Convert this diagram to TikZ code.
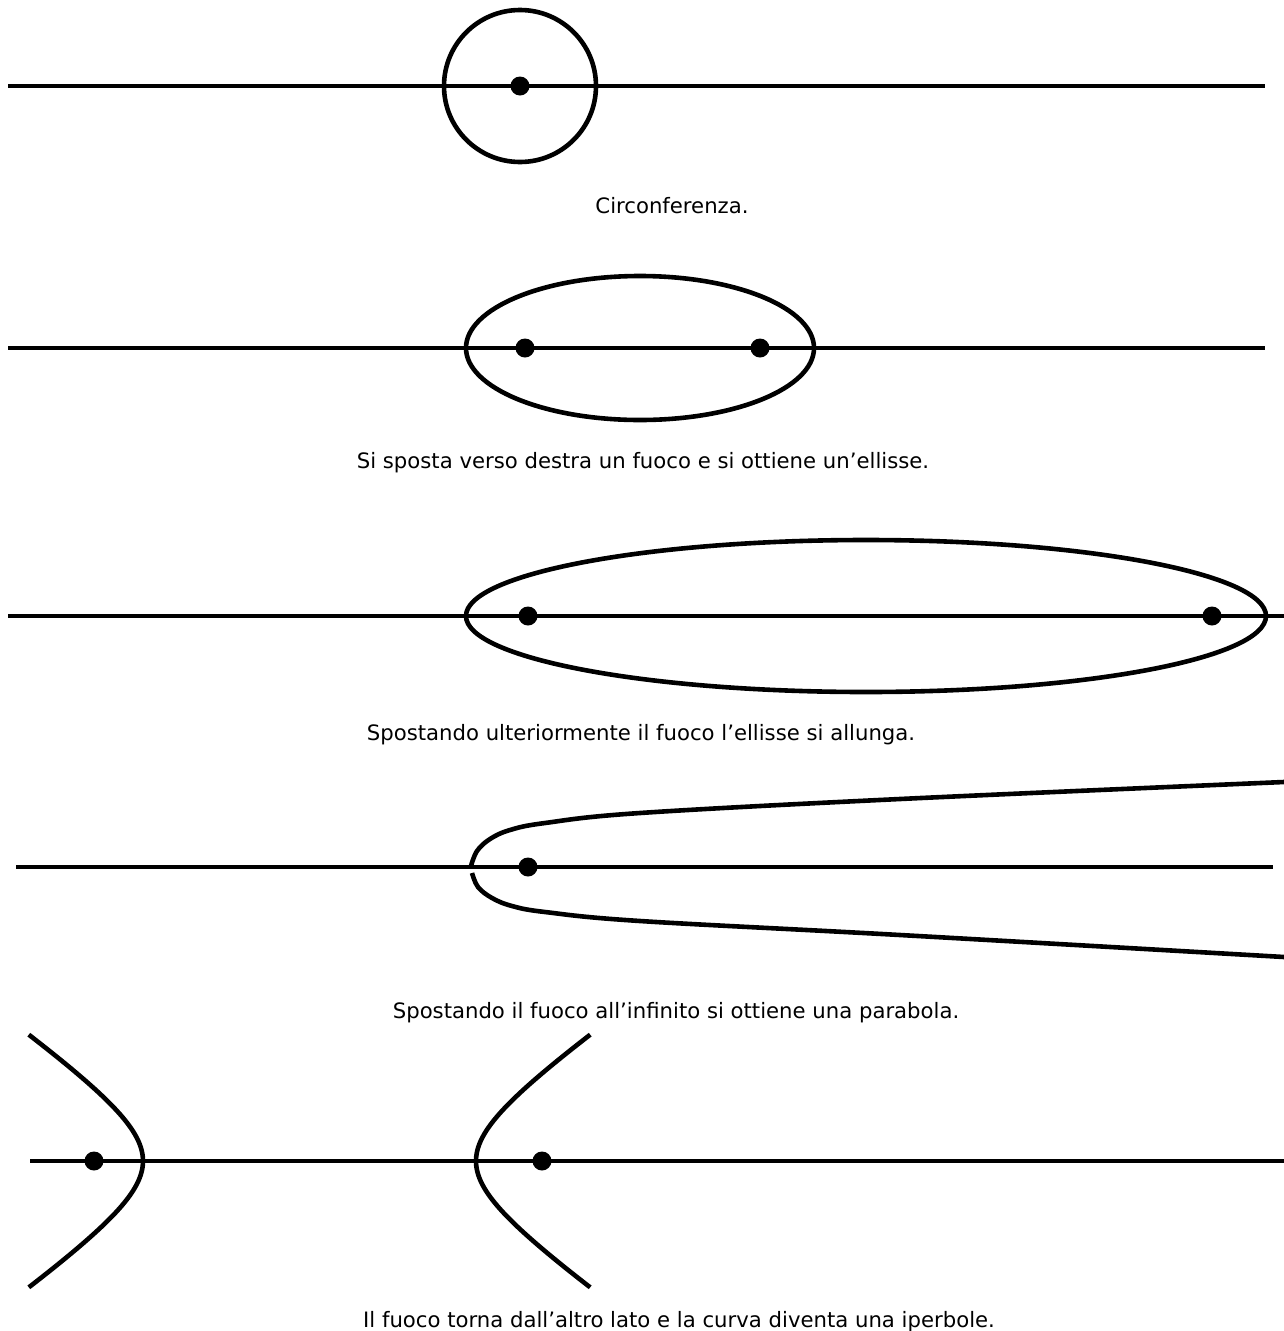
\documentclass[tikz,border=0pt]{standalone}
\usepackage{fontspec}
\setmainfont{DejaVu Sans}
\begin{document}
\begin{tikzpicture}[x=1pt,y=-1pt,
  curve/.style={line width=4.6pt},
  axis/.style={line width=4.6pt},
  focus/.style={circle,fill=black,inner sep=0pt,minimum size=19pt},
  caption/.style={font=\fontsize{21.2}{25}\selectfont,anchor=base,inner sep=0pt}]
\useasboundingbox (0,0) rectangle (1284,1331);
% Panel 1: circle
\coordinate (a1) at (8,86); \coordinate (b1) at (1265,86);
\draw[axis] (a1) -- (b1);
\draw[curve] (520,86) circle (76);
\node[focus] (f1) at (520,86) {};
\node[caption] (t1) at (672,213) {Circonferenza.};
% Panel 2: ellipse
\coordinate (a2) at (8,348); \coordinate (b2) at (1265,348);
\draw[axis] (a2) -- (b2);
\draw[curve] (640,348) ellipse [x radius=174, y radius=72];
\node[focus] (f2a) at (525,348) {};
\node[focus] (f2b) at (760,348) {};
\node[caption] (t2) at (643,468) {Si sposta verso destra un fuoco e si ottiene un’ellisse.};
% Panel 3: long ellipse
\coordinate (a3) at (8,616); \coordinate (b3) at (1284,616);
\draw[axis] (a3) -- (b3);
\draw[curve] (866,616) ellipse [x radius=400, y radius=76];
\node[focus] (f3a) at (528,616) {};
\node[focus] (f3b) at (1212,616) {};
\node[caption] (t3) at (641,740) {Spostando ulteriormente il fuoco l’ellisse si allunga.};
% Panel 4: parabola
\coordinate (a4) at (16,867); \coordinate (b4) at (1273,867);
\draw[axis] (a4) -- (b4);
\draw[curve] plot[smooth,tension=0.6] coordinates {(471,866) (477,851) (490,839) (510,830) (545,823) (640,813) (900,799) (1284,782)};
\draw[curve] plot[smooth,tension=0.6] coordinates {(472,873) (478,887) (492,898) (512,906) (545,912) (640,921) (900,935) (1284,957)};
\node[focus] (f4) at (528,867) {};
\node[caption] (t4) at (676,1018) {Spostando il fuoco all’infinito si ottiene una parabola.};
% Panel 5: hyperbola
\coordinate (a5) at (30,1161); \coordinate (b5) at (1284,1161);
\draw[axis] (a5) -- (b5);
\draw[curve] plot[domain=-1.49:1.49,samples=60,smooth] ({143-85.8*(cosh(\x)-1)},{1161+60*sinh(\x)});
\draw[curve] plot[domain=-1.49:1.49,samples=60,smooth] ({476+85.8*(cosh(\x)-1)},{1161+60*sinh(\x)});
\node[focus] (f5a) at (94,1161) {};
\node[focus] (f5b) at (542,1161) {};
\node[caption] (t5) at (679,1327) {Il fuoco torna dall’altro lato e la curva diventa una iperbole.};
\end{tikzpicture}
\end{document}
